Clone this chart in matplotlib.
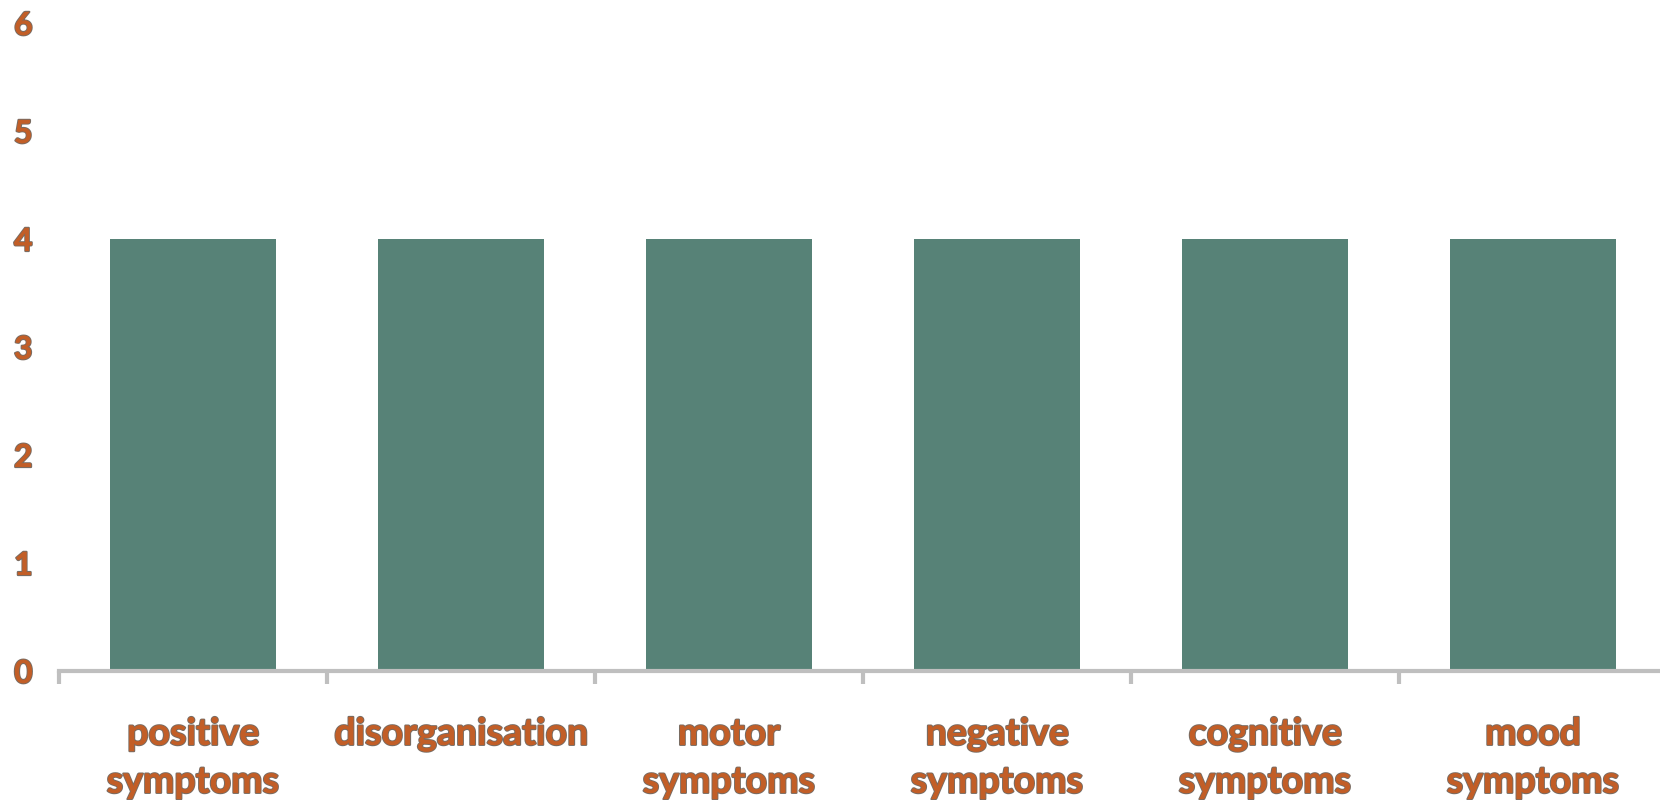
import matplotlib.pyplot as plt
import matplotlib.patheffects as pe

# ====== DATA ======
categories = ["positive\nsymptoms", "disorganisation", "motor\nsymptoms",
              "negative\nsymptoms", "cognitive\nsymptoms", "mood\nsymptoms"]
values = [4, 4, 4, 4, 4, 4]
y_ticks = [0, 1, 2, 3, 4, 5, 6]

BAR_COLOR = "#578277"
TEXT_COLOR = "#C25E27"
EDGE_COLOR = "#7A6C62"
AXIS_COLOR = "#BFBFBF"

outline = [pe.withStroke(linewidth=1.6, foreground=EDGE_COLOR), pe.Normal()]

fig = plt.figure(figsize=(16.6, 8), dpi=100)
ax = fig.add_axes([59 / 1660, 129 / 800, 1608 / 1660, 648 / 800])

x = list(range(len(categories)))
ax.bar(x, values, width=0.62, color=BAR_COLOR, zorder=2)

ax.set_xlim(-0.5, len(categories) - 0.5)
ax.set_ylim(0, 6)

# spines: only the bottom one, thick grey
for side in ["top", "right", "left"]:
    ax.spines[side].set_visible(False)
ax.spines["bottom"].set_color(AXIS_COLOR)
ax.spines["bottom"].set_linewidth(3)
ax.spines["bottom"].set_zorder(3)

# major ticks between categories, labels on minor ticks at centres
ax.set_xticks([i - 0.5 for i in range(len(categories) + 1)])
ax.set_xticklabels([])
ax.tick_params(axis="x", which="major", length=9, width=3, color=AXIS_COLOR)
ax.set_xticks(x, minor=True)
ax.set_xticklabels(categories, minor=True, fontsize=27, fontweight="bold",
                   family="Lato", color=TEXT_COLOR, linespacing=1.5)
ax.tick_params(axis="x", which="minor", length=0, pad=33)

ax.set_yticks(y_ticks)
ax.set_yticklabels([str(v) for v in y_ticks], fontsize=23, fontweight="bold",
                   family="Lato", color=TEXT_COLOR)
ax.tick_params(axis="y", length=0, pad=19)

for lbl in ax.get_xticklabels(minor=True) + ax.get_yticklabels():
    lbl.set_path_effects(outline)

fig.savefig("out.png", dpi=100)
